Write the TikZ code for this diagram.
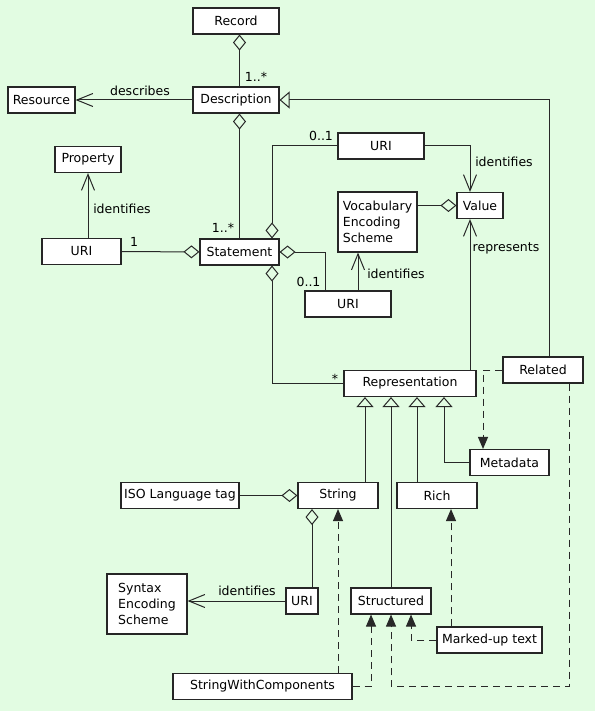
\documentclass[tikz,border=0pt]{standalone}
\usepackage{fontspec}
\setmainfont{DejaVu Sans}
\usetikzlibrary{arrows.meta}
\definecolor{bggreen}{RGB}{226,252,226}
\definecolor{linegray}{RGB}{40,40,40}

\begin{document}
\begin{tikzpicture}[x=1pt, y=-1pt,
  font=\fontsize{12.5}{16}\selectfont,
  cls/.style={draw=black!85, fill=white, line width=1.1pt, inner sep=0pt, minimum height=26pt},
  lbl/.style={inner sep=0pt},
  conn/.style={draw=linegray, line width=1pt},
  dsh/.style={conn, dash pattern=on 7pt off 5pt},
  agg/.tip={Diamond[open, length=16pt, width=13pt]},
  nav/.tip={Straight Barb[length=16pt, width=13pt]},
  gen/.tip={Triangle[open, length=10pt, width=17pt]},
  real/.tip={Triangle[length=12pt, width=10pt]}]

\fill[bggreen] (0,0) rectangle (595,711);
\useasboundingbox (0,0) rectangle (595,711);

% classes
\node[cls, minimum width=86] (record) at (236,21) {Record};
\node[cls, minimum width=86] (desc) at (236,100) {Description};
\node[cls, minimum width=67] (resource) at (41.5,100) {Resource};
\node[cls, minimum width=66] (property) at (88,159.5) {Property};
\node[cls, minimum width=79] (uriP) at (81.5,251.5) {URI};
\node[cls, minimum width=79] (statement) at (239.5,252) {Statement};
\node[cls, minimum width=86] (uriV) at (381,146) {URI};
\node[cls, minimum width=46] (value) at (480,205.5) {Value};
\node[cls, minimum width=79, minimum height=60, align=left] (ves) at (377.5,222) {Vocabulary\\Encoding\\Scheme};
\node[cls, minimum width=86] (uriVES) at (348,304) {URI};
\node[cls, minimum width=80] (related) at (543,370) {Related};
\node[cls, minimum width=132] (repr) at (410,383.5) {Representation};
\node[cls, minimum width=79] (metadata) at (509.5,462.5) {Metadata};
\node[cls, minimum width=80] (string) at (338,495.5) {String};
\node[cls, minimum width=80] (rich) at (437,495.5) {Rich};
\node[cls, minimum width=118] (iso) at (180,495.5) {ISO Language tag};
\node[cls, minimum width=32] (uriS) at (302,601) {URI};
\node[cls, minimum width=80] (structured) at (391,601) {Structured};
\node[cls, minimum width=105] (marked) at (489.5,640) {Marked-up text};
\node[cls, minimum width=80, minimum height=60, align=left] (ses) at (147,604) {Syntax\\Encoding\\Scheme};
\node[cls, minimum width=179] (swc) at (262.5,686.5) {StringWithComponents};

% aggregations and associations
\draw[conn, agg-] (record.south -| statement.north) -- (desc.north -| statement.north);
\draw[conn, -nav] (desc) -- (resource);
\draw[conn, agg-] (desc.south -| statement.north) -- (statement.north);
\draw[conn, -agg] (uriP) -- (statement);
\draw[conn, -nav] (uriP.north -| property.south) -- (property.south);
\draw[conn, agg-] ([xshift=32.5pt]statement.north) |- (uriV.west);
\draw[conn, agg-] (statement.east) -| ([xshift=-23pt]uriVES.north);
\draw[conn, agg-] ([xshift=32.5pt]statement.south) |- (repr.west);
\draw[conn, -nav] (uriV.east) -| ([xshift=-10pt]value.north);
\draw[conn, -agg] (ves.east |- value.west) -- (value.west);
\draw[conn, -nav] ([xshift=10pt]uriVES.north) -- ([xshift=10pt]uriVES.north |- ves.south);
\draw[conn, -nav] ([xshift=-10pt]value.south |- repr.north) -- ([xshift=-10pt]value.south);
\draw[conn, -agg] (iso) -- (string);
\draw[conn, agg-] ([xshift=-26pt]string.south) -- ([xshift=-26pt]string.south |- uriS.north);
\draw[conn, -nav] (uriS.west) -- (uriS.west -| ses.east);

% generalizations
\draw[conn, -gen] ([xshift=6pt]related.north) |- (desc.east);
\draw[conn, -gen] ([xshift=-45pt]repr.south |- string.north) -- ([xshift=-45pt]repr.south);
\draw[conn, -gen] (structured.north) -- (structured.north |- repr.south);
\draw[conn, -gen] ([xshift=7pt]repr.south |- rich.north) -- ([xshift=7pt]repr.south);
\draw[conn, -gen] (metadata.west) -| ([xshift=34pt]repr.south);

% dependencies
\draw[dsh, -real] (related.west) -| ([xshift=-26.5pt]metadata.north);
\draw[dsh, -real] ([xshift=26pt]related.south) -- ([xshift=26pt]related.south |- swc.east) -| (structured.south);
\draw[dsh, -real] (swc.north -| string.south) -- (string.south);
\draw[dsh, -real] (swc.east) -| ([xshift=-20pt]structured.south);
\draw[dsh, -real] (marked.west) -| ([xshift=20pt]structured.south);
\draw[dsh, -real] ([xshift=14pt]rich.south |- marked.north) -- ([xshift=14pt]rich.south);

% labels
\node[lbl] (mDesc) at (256,77) {1..*};
\node[lbl] (lDescribes) at (140,91) {describes};
\node[lbl] (mStmt) at (223,228) {1..*};
\node[lbl] (mUriP) at (134,242) {1};
\node[lbl] (lIdProp) at (122,209) {identifies};
\node[lbl] (mUriV) at (321,136) {0..1};
\node[lbl] (mUriVES) at (308.5,282) {0..1};
\node[lbl] (mRepr) at (335,379) {*};
\node[lbl] (lIdValue) at (504,162) {identifies};
\node[lbl] (lIdVES) at (396,274) {identifies};
\node[lbl] (lRepresents) at (506,248) {represents};
\node[lbl] (lIdSES) at (247,591) {identifies};

\end{tikzpicture}
\end{document}
